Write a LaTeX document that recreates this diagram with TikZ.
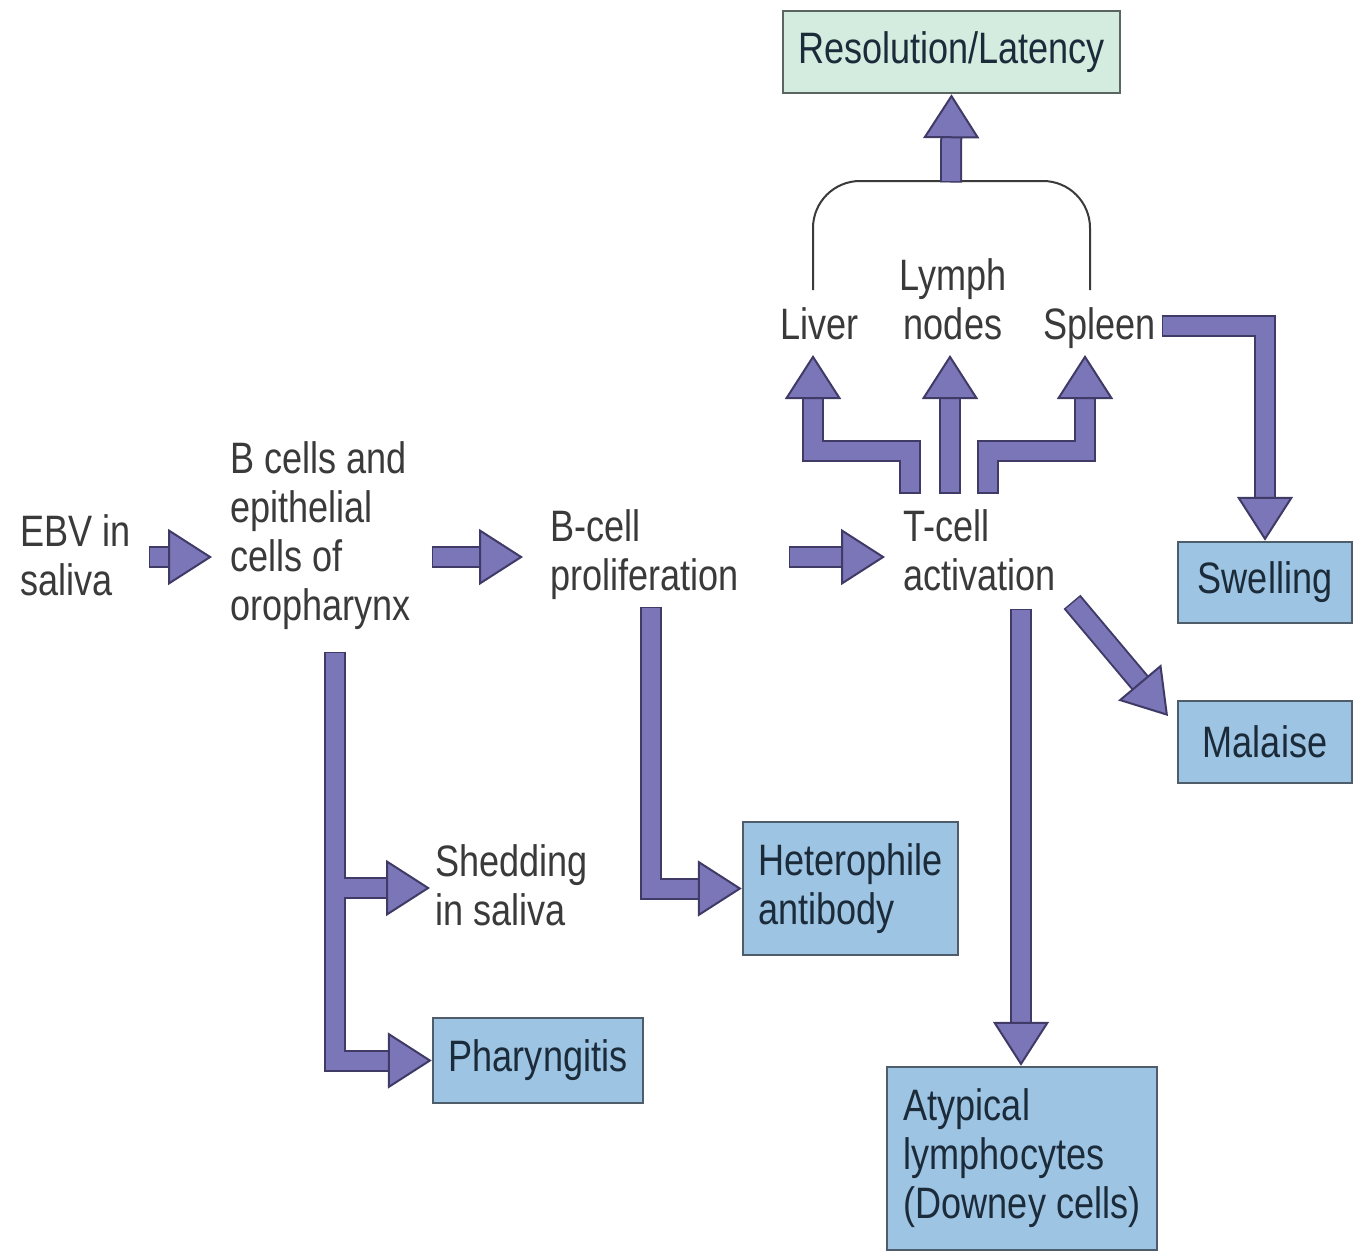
\documentclass[tikz,border=0pt]{standalone}
\usepackage{fontspec}
\setmainfont{Liberation Sans}[FakeStretch=0.82]
\usetikzlibrary{arrows.meta}
\definecolor{arrfill}{HTML}{7A76B8}
\definecolor{arrline}{HTML}{3F3A66}
\definecolor{boxfill}{HTML}{9DC4E2}
\definecolor{boxline}{HTML}{4E5D69}
\definecolor{resfill}{HTML}{D3ECDF}
\definecolor{resline}{HTML}{5A6660}
\definecolor{txt}{HTML}{3A3A3A}
\definecolor{boxtxt}{HTML}{1C2B3A}
\newcommand\fatarrow[1]{\draw[fatout] #1; \draw[fatin] #1;}
\tikzset{
  lbl/.style={inner sep=0pt, align=left, text=txt, font=\fontsize{44}{49}\selectfont, anchor=north west},
  box/.style={draw=boxline, line width=2.5pt, fill=boxfill, text=boxtxt, align=left, inner sep=0pt, font=\fontsize{44}{49}\selectfont},
  fatout/.style={draw=arrline, line width=22pt, line join=miter, shorten >=40pt, shorten <=-1.5pt},
  fatin/.style={draw=arrfill, line width=18pt, line join=miter, -{Triangle[length=44pt, width=56pt, line width=2pt, fill=arrfill, color=arrline]}},
  brk/.style={draw=txt, line width=2pt, rounded corners=47pt}
}
\begin{document}
\begin{tikzpicture}[x=1pt,y=-1pt]
\fill[white] (0,0) rectangle (1355,1253);
\useasboundingbox (0,0) rectangle (1355,1253);

% boxes
\node[box, fill=resfill, draw=resline, minimum width=337pt, minimum height=82pt] (res) at (951.5,52) {Resolution/Latency};
\node[box, minimum width=174pt, minimum height=81pt] (swell) at (1265,582.5) {Swelling};
\node[box, minimum width=174pt, minimum height=82pt] (mal) at (1265,742) {Malaise};
\node[box, minimum width=215pt, minimum height=133pt] (het) at (850.5,888.5) {Heterophile\\antibody};
\node[box, minimum width=210pt, minimum height=85pt] (phar) at (538,1060.5) {Pharyngitis};
\node[box, minimum width=270pt, minimum height=183pt] (atyp) at (1022,1158.5) {Atypical\\lymphocytes\\(Downey cells)};

% labels
\node[lbl] (ebv) at (20,514.5) {EBV in\\saliva};
\node[lbl] (bcells) at (230,441.5) {B cells and\\epithelial\\cells of\\oropharynx};
\node[lbl] (bprol) at (550,509.5) {B-cell\\proliferation};
\node[lbl] (tcell) at (903,509.5) {T-cell\\activation};
\node[lbl] (liver) at (780,307.5) {Liver};
\node[lbl, anchor=north, align=center] (lymph) at (953,258.5) {Lymph\\nodes};
\node[lbl] (spleen) at (1043,307.5) {Spleen};
\node[lbl] (shed) at (435,844.5) {Shedding\\in saliva};

% connector end points
\coordinate (e1s) at (150,557);
\coordinate (e1e) at (212,557);
\coordinate (e2s) at (433,557);
\coordinate (e2e) at (523,557);
\coordinate (e3s) at (790,557);
\coordinate (e3e) at (885,557);
\coordinate (lvS) at (910,492);
\coordinate (lvE) at (813,355);
\coordinate (lnS) at (950,492);
\coordinate (lnE) at (950,355);
\coordinate (spS) at (988,492);
\coordinate (spE) at (1085,355);
\coordinate (swS) at (1163,326);
\coordinate (mlS) at (1073,603);
\coordinate (mlE) at (1168,716);
\coordinate (atS) at (1021,610);
\coordinate (bcS) at (335,653);
\coordinate (shE) at (430,888);
\coordinate (hetS) at (651,608);
\coordinate (brL) at (813,290);
\coordinate (brR) at (1090,290);
\coordinate (brT) at (951,181);

% main chain
\fatarrow{(e1s) -- (e1e)}
\fatarrow{(e2s) -- (e2e)}
\fatarrow{(e3s) -- (e3e)}

% T-cell to organs
\fatarrow{(lvS) -- (910,451) -- (813,451) -- (lvE)}
\fatarrow{(lnS) -- (lnE)}
\fatarrow{(spS) -- (988,451) -- (1085,451) -- (spE)}

% bracket
\draw[brk] (brL) |- (brT -| brR) -- (brR);
\fatarrow{(brT) -- (res.south)}

% spleen to swelling
\fatarrow{(swS) -| (swell.north)}
% to malaise
\fatarrow{(mlS) -- (mlE)}
% to atypical
\fatarrow{(atS) -- (atS |- atyp.north)}
% B-cell to heterophile
\fatarrow{(hetS) |- (het.west)}

% B cells to shedding and pharyngitis (merged trunk)
\draw[fatout] (bcS) |- (shE);
\draw[fatout] (bcS) |- (phar.west);
\draw[fatin] (bcS) |- (shE);
\draw[fatin] (bcS) |- (phar.west);
\end{tikzpicture}
\end{document}
